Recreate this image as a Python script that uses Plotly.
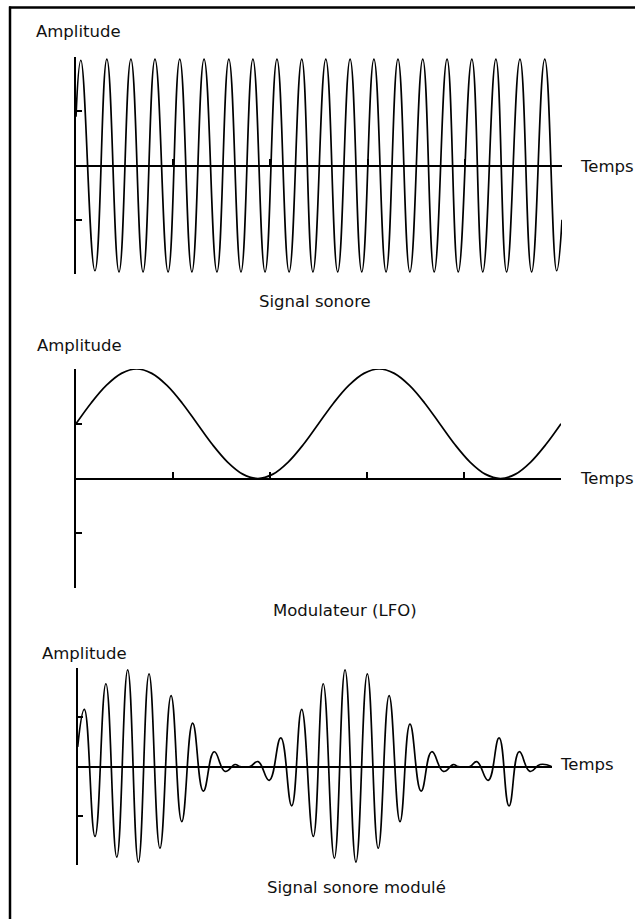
import plotly.graph_objects as go

W, H = 635, 919

# --- Signal sonore : crêtes et creux (temps 0..20) ---
son_debut = (0.0, 0.45)
son_fin = (20.0, -0.5)
son_t_cretes = [0.20, 1.27, 2.26, 3.25, 4.27, 5.27, 6.29, 7.28, 8.27, 9.29,
                10.28, 11.28, 12.26, 13.25, 14.27, 15.27, 16.29, 17.28, 18.27, 19.29]
son_cretes = [0.97, 0.98, 0.98, 0.98, 0.98, 0.98, 0.98, 0.98, 0.98, 0.98,
              0.98, 0.98, 0.98, 0.98, 0.98, 0.98, 0.98, 0.98, 0.98, 0.98]
son_t_creux = [0.78, 1.77, 2.76, 3.79, 4.77, 5.80, 6.79, 7.78, 8.77, 9.75,
               10.77, 11.76, 12.76, 13.74, 14.74, 15.73, 16.74, 17.72, 18.75, 19.78]
son_creux = [-0.97, -0.98, -0.98, -0.98, -0.98, -0.98, -0.98, -0.98, -0.98, -0.98,
             -0.98, -0.98, -0.98, -0.98, -0.98, -0.98, -0.98, -0.98, -0.98, -0.97]

# --- Modulateur (LFO) ---
lfo_t = [0, 0.625, 1.25, 1.875, 2.5, 3.125, 3.75, 4.375, 5, 5.625, 6.25, 6.875, 7.5,
         8.125, 8.75, 9.375, 10, 10.625, 11.25, 11.875, 12.5, 13.125, 13.75, 14.375, 15,
         15.625, 16.25, 16.875, 17.5, 18.125, 18.75, 19.375, 20]
lfo_v = [0.5, 0.69, 0.85, 0.96, 1.0, 0.96, 0.85, 0.69, 0.5, 0.31, 0.15, 0.04, 0.0,
         0.04, 0.15, 0.31, 0.5, 0.69, 0.85, 0.96, 1.0, 0.96, 0.85, 0.69, 0.5,
         0.31, 0.15, 0.04, 0.0, 0.04, 0.15, 0.31, 0.5]

# --- Signal sonore modulé ---
mod_t = [0.0, 0.28, 0.73, 1.19, 1.65, 2.11, 2.56, 3.01, 3.47, 3.94, 4.39, 4.85,
         5.30, 5.76, 6.22, 6.64, 6.85, 7.27, 7.61, 8.08, 8.57, 9.03, 9.45, 9.94,
         10.36, 10.83, 11.28, 11.74, 12.22, 12.68, 13.14, 13.60, 14.02, 14.49,
         14.94, 15.43, 15.85, 16.05, 16.55, 16.84, 17.32, 17.78, 18.20, 18.63,
         19.08, 19.51, 20.0]
mod_v = [0.2, 0.58, -0.71, 0.84, -0.92, 0.98, -0.97, 0.94, -0.83, 0.72, -0.56, 0.44,
         -0.25, 0.15, -0.05, 0.02, 0.0, 0.0, 0.05, -0.14, 0.29, -0.40, 0.58, -0.71,
         0.84, -0.93, 0.98, -0.97, 0.94, -0.83, 0.72, -0.56, 0.43, -0.25,
         0.15, -0.05, 0.02, 0.0, 0.0, 0.05, -0.14, 0.29, -0.40, 0.15,
         -0.05, 0.02, 0.0]

titres = ["Signal sonore", "Modulateur (LFO)", "Signal sonore modulé"]

# pixel boxes of the three plot areas (left, right, top, bottom)
boites = [(76, 562, 57, 274), (76, 561, 369, 588), (77.7, 551.7, 668, 865)]
pos_titres = [(315, 302), (345, 610), (356, 887)]
pos_ampl = [(34, 32), (35, 345), (40, 653)]
pos_temps = [(578, 166), (578, 478), (558, 764)]
lissage = [1.3, 1.0, 1.3]

pts = [son_debut] + sorted(list(zip(son_t_cretes, son_cretes)) + list(zip(son_t_creux, son_creux))) + [son_fin]
son_t = [p[0] for p in pts]
son_v = [p[1] for p in pts]

series = [(son_t, son_v), (lfo_t, lfo_v), (mod_t, mod_v)]

fig = go.Figure()
police = dict(family="DejaVu Sans", size=16.5, color="#111111")
annots = []
for i, ((t, v), (x0, x1, y0, y1)) in enumerate(zip(series, boites)):
    n = "" if i == 0 else str(i + 1)
    fig.add_trace(go.Scatter(x=t, y=v, mode="lines", xaxis="x" + n, yaxis="y" + n,
                             line=dict(color="black", width=1.7, shape="spline", smoothing=lissage[i]),
                             showlegend=False, hoverinfo="skip"))
    dom_y = [1 - y1 / H, 1 - y0 / H]
    fig.layout["xaxis" + n] = dict(
        domain=[x0 / W, x1 / W], range=[0, 20], anchor="free",
        position=(dom_y[0] + dom_y[1]) / 2, showline=True, linecolor="black", linewidth=2,
        showgrid=False, zeroline=False, showticklabels=False,
        ticks="inside" if i < 2 else "", ticklen=6, tickwidth=1.5, tickcolor="black",
        tickvals=[4, 8, 12, 16, 20])
    fig.layout["yaxis" + n] = dict(
        domain=dom_y, range=[-1, 1], anchor="x" + n, showline=True, linecolor="black",
        linewidth=1.5, showgrid=False, zeroline=False, showticklabels=False,
        ticks="inside", ticklen=6, tickwidth=1.5, tickcolor="black",
        tickvals=[-1, -0.5, 0.5, 1])
    tx, ty = pos_titres[i]
    annots.append(dict(text=titres[i], x=tx / W, y=1 - ty / H, xanchor="center", yanchor="middle"))
    ax, ay = pos_ampl[i]
    annots.append(dict(text="Amplitude", x=ax / W, y=1 - ay / H, xanchor="left", yanchor="middle"))
    mx, my = pos_temps[i]
    annots.append(dict(text="Temps", x=mx / W, y=1 - my / H, xanchor="left", yanchor="middle"))

for a in annots:
    a.update(xref="paper", yref="paper", showarrow=False, font=police)

fig.update_layout(
    width=W, height=H, margin=dict(l=0, r=0, t=0, b=0),
    paper_bgcolor="white", plot_bgcolor="white", annotations=annots,
    shapes=[
        dict(type="line", xref="paper", yref="paper", x0=9 / W, x1=1, y0=1 - 7.5 / H, y1=1 - 7.5 / H,
             line=dict(color="black", width=2.5)),
        dict(type="line", xref="paper", yref="paper", x0=10 / W, x1=10 / W, y0=0, y1=1 - 6.5 / H,
             line=dict(color="black", width=2.5)),
    ],
)

fig.write_html("out.html", config={"displayModeBar": False},
               post_script="document.body.style.margin='0';document.body.style.overflow='hidden';")
